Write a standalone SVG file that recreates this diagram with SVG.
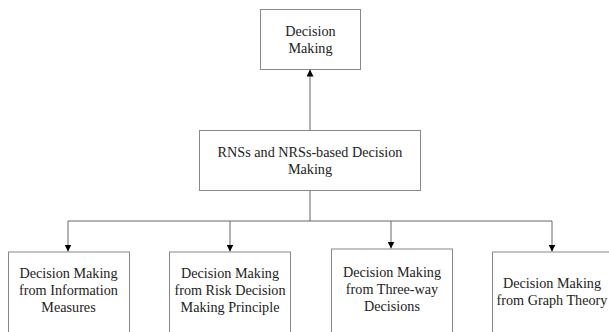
<svg xmlns="http://www.w3.org/2000/svg" width="609" height="332" viewBox="0 0 609 332">
<defs>
<marker id="arr" viewBox="0 0 10 10" refX="10" refY="5" markerWidth="7" markerHeight="7" markerUnits="userSpaceOnUse" orient="auto">
<path d="M0,0 L10,5 L0,10 z" fill="#000"/>
</marker>
</defs>
<style>
.box{fill:#fff;stroke:#888;stroke-width:1}
.t{font-size:14.2px;fill:#222;text-anchor:middle}
.c{stroke:#666;stroke-width:1;fill:none}
</style>
<rect x="0" y="0" width="609" height="332" fill="#fff"/>
<g id="connectors">
<line class="c" x1="310" y1="130" x2="310" y2="69.5" marker-end="url(#arr)"/>
<line class="c" x1="310" y1="190" x2="310" y2="221"/>
<line class="c" x1="68" y1="221" x2="552" y2="221"/>
<line class="c" x1="68" y1="221" x2="68" y2="251.5" marker-end="url(#arr)"/>
<line class="c" x1="230" y1="221" x2="230" y2="251.5" marker-end="url(#arr)"/>
<line class="c" x1="391" y1="221" x2="391" y2="248.5" marker-end="url(#arr)"/>
<line class="c" x1="552" y1="221" x2="552" y2="251.5" marker-end="url(#arr)"/>
</g>
<g font-family="Liberation Serif, Times New Roman, serif">
<g id="decision-making">
<rect class="box" x="260.5" y="9.5" width="100" height="60"/>
<text class="t" x="310.5" y="36">Decision</text>
<text class="t" x="310.5" y="53">Making</text>
</g>
<g id="rns-nrs">
<rect class="box" x="199.5" y="130.5" width="221" height="60"/>
<text class="t" x="310" y="157">RNSs and NRSs-based Decision</text>
<text class="t" x="310" y="174">Making</text>
</g>
<g id="info-measures">
<rect class="box" x="8.5" y="252" width="121" height="90"/>
<text class="t" x="68.5" y="278">Decision Making</text>
<text class="t" x="68.5" y="295">from Information</text>
<text class="t" x="68.5" y="312">Measures</text>
</g>
<g id="risk">
<rect class="box" x="169.5" y="252" width="121" height="90"/>
<text class="t" x="230" y="278">Decision Making</text>
<text class="t" x="230" y="295">from Risk Decision</text>
<text class="t" x="230" y="312">Making Principle</text>
</g>
<g id="three-way">
<rect class="box" x="331.5" y="249" width="121" height="90"/>
<text class="t" x="392" y="277">Decision Making</text>
<text class="t" x="392" y="294">from Three-way</text>
<text class="t" x="392" y="311">Decisions</text>
</g>
<g id="graph-theory">
<rect class="box" x="492.5" y="252" width="121" height="90"/>
<text class="t" x="552" y="288">Decision Making</text>
<text class="t" x="552" y="305">from Graph Theory</text>
</g>
</g>
</svg>
